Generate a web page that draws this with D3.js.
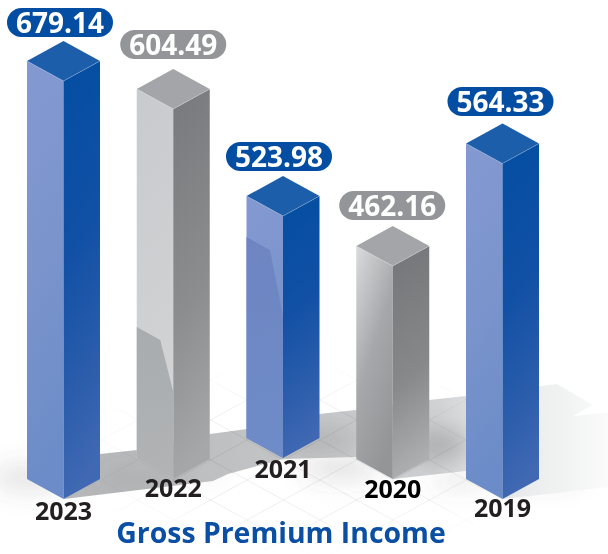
<!DOCTYPE html>
<html><head><meta charset="utf-8">
<style>html,body{margin:0;padding:0;background:#fff}svg{display:block}text{font-family:"Open Sans",sans-serif}</style>
<script src="https://cdn.jsdelivr.net/npm/d3@7"></script></head><body>
<svg id="c" width="608" height="554"></svg>
<script>
const years = ["2023","2022","2021","2020","2019"];
const premiums = [679.14,604.49,523.98,462.16,564.33];
const families = ["blue","grey","blue","grey","blue"];
const chartTitle = "Gross Premium Income";

const W=608,H=554,HW=36.5,DY=20;
const svg=d3.select("#c"), defs=svg.append("defs");
const x=d3.scalePoint().domain(years).range([63.5,502.5]);
const baseY=d3.scaleOrdinal().domain(years).range([499,479,458,479,499]);
// The source picture's bar heights are not proportional to the values: a monotone piecewise scale reproduces them.
const heightScale=d3.scaleLinear().domain([462.16,523.98,564.33,604.49,679.14]).range([213,242,335.5,370,418]);
const pillGap=d3.scaleOrdinal().domain(years).range([4,10,5,6,7.5]);
const pillShift=d3.scaleOrdinal().domain(years).range([-3.5,0,-4,-0.5,-2]);
const labelBase=d3.scaleOrdinal().domain(years).range([520,497,478,498,517]);

function grad(id,x1,y1,x2,y2,stops,units){
  const g=defs.append("linearGradient").attr("id",id).attr("x1",x1).attr("y1",y1).attr("x2",x2).attr("y2",y2);
  if(units) g.attr("gradientUnits",units);
  stops.forEach(s=>g.append("stop").attr("offset",s[0]).attr("stop-color",s[1]).attr("stop-opacity",s[2]==null?1:s[2]));
}
grad("bl",0,0,.12,1,[[0,"#8499d1"],[.5,"#7b94cc"],[1,"#6b8cc8"]]);
grad("br",0,0,.12,1,[[0,"#034ea2"],[.45,"#1150a5"],[.8,"#2d5eac"],[1,"#4068b3"]]);
grad("gl",0,0,.12,1,[[0,"#c8cacd"],[1,"#d2d4d6"]]);
grad("gr",0,0,.12,1,[[0,"#78797c"],[.6,"#8c8d8f"],[1,"#a6a7a9"]]);
grad("gl2",.1,0,.6,1,[[0,"#d6d7d9"],[.5,"#a5a7aa"],[1,"#939597"]]);
grad("gr2",0,0,.12,1,[[0,"#747578"],[.6,"#87888a"],[1,"#adaeb0"]]);
grad("rg",0,0,.05,1,[[0,"#a8acae"],[1,"#b1b3b5"]]);
grad("rb",0,0,.05,1,[[0,"#6e85c2"],[1,"#6e8cc8"]]);
grad("shadow",64,0,608,0,[[0,"#b4b6b8"],[.4,"#c2c4c6"],[.68,"#cfd1d2"],[.8,"#e6e7e8"],[.92,"#f1f2f2"],[1,"#fbfbfb"]],"userSpaceOnUse");
const blur=defs.append("filter").attr("id","blur").attr("x","-50%").attr("y","-50%").attr("width","200%").attr("height","200%");
blur.append("feGaussianBlur").attr("stdDeviation",11);
const rad=defs.append("radialGradient").attr("id","fade").attr("gradientUnits","userSpaceOnUse").attr("cx",310).attr("cy",460).attr("r",250)
  .attr("gradientTransform","translate(0 276) scale(1 .4)");
rad.append("stop").attr("offset",.55).attr("stop-color","#fff");
rad.append("stop").attr("offset",1).attr("stop-color","#000");
defs.append("mask").attr("id","fademask").attr("maskUnits","userSpaceOnUse").attr("x",0).attr("y",0).attr("width",W).attr("height",H)
  .append("rect").attr("width",W).attr("height",H).attr("fill","url(#fade)");

// soft contact shadows on the floor
const soft=svg.append("g").attr("filter","url(#blur)");
[[30,478,40,16,.13],[340,468,40,14,.14],[460,480,30,12,.1],[545,470,40,18,.12],[200,470,30,8,.06]].forEach(e=>
  soft.append("ellipse").attr("cx",e[0]).attr("cy",e[1]).attr("rx",e[2]).attr("ry",e[3]).attr("fill","#555").attr("opacity",e[4]));

// cast shadow band
const band=[[64,499],[213,481],[228,474],[283,459],[357,457],[393,479],[466,471],[503,499],[608,487],[608,412],[573,416],[593,405],[557,384],[466,396],[429,400],[356,410],[319,414],[247,429],[210,434],[137,450],[100,454]];
svg.append("path").attr("d",d3.line()(band)+"Z").attr("fill","url(#shadow)");
const dark=svg.append("g").attr("filter","url(#blur)").attr("clip-path","url(#bandclip)");
defs.append("clipPath").attr("id","bandclip").append("path").attr("d",d3.line()(band)+"Z");
[[440,445,30,16,.32],[320,440,40,14,.18],[140,480,40,14,.1]].forEach(e=>
  dark.append("ellipse").attr("cx",e[0]).attr("cy",e[1]).attr("rx",e[2]).attr("ry",e[3]).attr("fill","#666").attr("opacity",e[4]));

// isometric floor grid
const grid=svg.append("g").attr("mask","url(#fademask)").attr("stroke","#000").attr("stroke-opacity",.065).attr("stroke-width",1).attr("fill","none");
const k=DY/HW;
d3.range(-14,15).forEach(i=>{
  const cy=480+i*40;
  grid.append("line").attr("x1",0).attr("x2",W).attr("y1",cy-320*k).attr("y2",cy+(W-320)*k);
  grid.append("line").attr("x1",0).attr("x2",W).attr("y1",cy+320*k).attr("y2",cy-(W-320)*k);
});

// bars
const bars=svg.selectAll("g.bar").data(years.map((y,i)=>({y,v:premiums[i],f:families[i]}))).join("g").attr("class","bar");
bars.each(function(d){
  const g=d3.select(this),cx=x(d.y),b=baseY(d.y),t=b-heightScale(d.v);
  const blue=d.f==="blue";
  const line=d3.line();
  const lf=d.y==="2020"?"url(#gl2)":blue?"url(#bl)":"url(#gl)";
  const rf=d.y==="2020"?"url(#gr2)":blue?"url(#br)":"url(#gr)";
  g.append("path").attr("d",line([[cx-HW,t-DY],[cx,t],[cx,b],[cx-HW,b-DY]])+"Z").attr("fill",lf);
  g.append("path").attr("d",line([[cx,t],[cx+HW,t-DY],[cx+HW,b-DY],[cx,b]])+"Z").attr("fill",rf);
  g.append("path").attr("d",line([[cx-HW,t-DY],[cx,t-2*DY],[cx+HW,t-DY],[cx,t]])+"Z").attr("fill",blue?"#1d5eab":"#a4a5a8");
  g.append("path").attr("d",line([[cx-HW,t-DY],[cx,t],[cx+HW,t-DY]])).attr("fill","none").attr("stroke","#fff").attr("stroke-opacity",.3).attr("stroke-width",.7);
  // reflection of the neighbouring bar on the left face
  if(d.y==="2022"){
    g.append("path").attr("d",line([[cx-HW,t+218],[cx-13,t+231],[cx,t+283],[cx,b],[cx-HW,b-DY]])+"Z").attr("fill","url(#rg)");
  }
  if(d.y==="2021"){
    g.append("path").attr("d",line([[cx-HW,t+21],[cx-13,t+34],[cx,t+100],[cx,b],[cx-HW,b-DY]])+"Z").attr("fill","url(#rb)");
  }
  // value pill
  const pw=106,ph=29,pb=t-2*DY-pillGap(d.y),pc=cx+pillShift(d.y);
  g.append("rect").attr("x",pc-pw/2).attr("y",pb-ph).attr("width",pw).attr("height",ph).attr("rx",14.5)
    .attr("fill",blue?"#034ea2":"#939598");
  g.append("text").attr("x",pc).attr("y",pb-ph/2+10).attr("text-anchor","middle").attr("fill","#fff")
    .attr("font-size",28).attr("font-weight",700).text(d3.format(".2f")(d.v));
  // year label
  g.append("text").attr("x",cx).attr("y",labelBase(d.y)).attr("text-anchor","middle")
    .attr("fill",d.y==="2020"?"#000":"#231f20").attr("font-size",25).attr("font-weight",700).text(d.y);
});

svg.append("text").attr("x",281).attr("y",543).attr("text-anchor","middle").attr("fill","#0a4fa3")
  .attr("font-size",28.4).attr("font-weight",700).text(chartTitle);
</script></body></html>
